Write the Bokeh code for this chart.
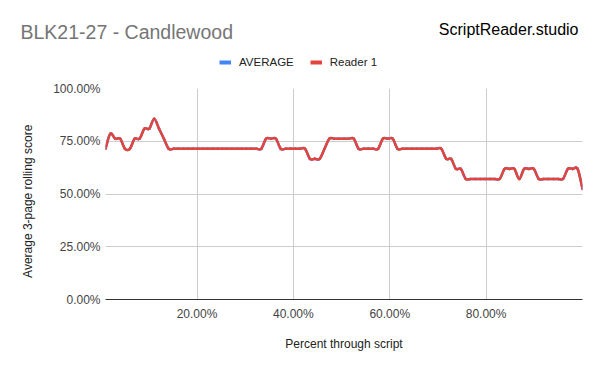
import math
from bokeh.plotting import figure
from bokeh.layouts import column, row
from bokeh.models import (Range1d, FixedTicker, Label, Legend, LegendItem,
                          ColumnDataSource)
from bokeh.embed import file_html
from bokeh.resources import INLINE

# ---------------- data ----------------
title_text = "BLK21-27 - Candlewood"
brand_text = "ScriptReader.studio"
x_title = "Percent through script"
y_title = "Average 3-page rolling score"
series_names = ["AVERAGE", "Reader 1"]

total_pages = 99
pages = list(range(1, total_pages + 1))

reader1 = [
    71.43, 78.57, 76.19, 76.19, 71.43, 71.43, 76.19, 76.19, 80.95, 80.95,
    85.71, 80.95, 76.19, 71.43, 71.43, 71.43, 71.43, 71.43, 71.43, 71.43,
    71.43, 71.43, 71.43, 71.43, 71.43, 71.43, 71.43, 71.43, 71.43, 71.43,
    71.43, 71.43, 71.43, 76.19, 76.19, 76.19, 71.43, 71.43, 71.43, 71.43,
    71.43, 71.43, 66.67, 66.67, 66.67, 71.43, 76.19, 76.19, 76.19, 76.19,
    76.19, 76.19, 71.43, 71.43, 71.43, 71.43, 71.43, 76.19, 76.19, 76.19,
    71.43, 71.43, 71.43, 71.43, 71.43, 71.43, 71.43, 71.43, 71.43, 71.43,
    66.67, 66.67, 61.90, 61.90, 57.14, 57.14, 57.14, 57.14, 57.14, 57.14,
    57.14, 57.14, 61.90, 61.90, 61.90, 57.14, 61.90, 61.90, 61.90, 57.14,
    57.14, 57.14, 57.14, 57.14, 57.14, 61.90, 61.90, 61.90, 52.38,
]
# only one reader, so the average equals Reader 1
average = list(reader1)

x_ticks = [20, 40, 60, 80, 100]
x_tick_labels = {20: "20.00%", 40: "40.00%", 60: "60.00%", 80: "80.00%", 100: ""}
y_ticks = [0, 25, 50, 75, 100]
y_tick_labels = {0: "0.00%", 25: "25.00%", 50: "50.00%", 75: "75.00%", 100: "100.00%"}

pct = [100.0 * pg / total_pages for pg in pages]

FONT = "Liberation Sans"
AVG_COLOR = "#4285F4"
RD_COLOR = "#E2453C"
NAN = float("nan")

PAGE_W, PAGE_H = 600, 371
HH = 80          # header height
LW = 40          # left strip width (y-axis title)


def blank(width, height, xr, yr):
    f = figure(width=width, height=height, output_backend="svg",
               toolbar_location=None, x_range=xr, y_range=yr,
               x_axis_type=None, y_axis_type=None,
               min_border_left=0, min_border_right=0,
               min_border_top=0, min_border_bottom=0)
    f.frame_align = False
    f.outline_line_color = None
    f.grid.visible = False
    return f


# ---------------- header (title, brand, legend) ----------------
head = blank(PAGE_W, HH, Range1d(0, PAGE_W), Range1d(HH, 0))
head.add_layout(Label(x=20, y=31, text=title_text,
                      text_font=FONT, text_font_size="19.5px", text_color="#757575",
                      text_align="left", text_baseline="alphabetic"))
head.add_layout(Label(x=578, y=28.5, text=brand_text,
                      text_font=FONT, text_font_size="16px", text_color="#000000",
                      text_align="right", text_baseline="alphabetic"))

# legend keys (no visible data of their own)
key_avg = head.line(x=[NAN], y=[NAN], line_color=AVG_COLOR, line_width=4)
key_rd = head.line(x=[NAN], y=[NAN], line_color=RD_COLOR, line_width=4)
legend = Legend(items=[LegendItem(label=series_names[0], renderers=[key_avg]),
                       LegendItem(label=series_names[1], renderers=[key_rd])],
                orientation="horizontal", location=(219, 12),
                glyph_width=12, glyph_height=12, label_height=12,
                label_standoff=8, spacing=16, padding=0, margin=0,
                label_text_font=FONT, label_text_font_size="11.5px",
                label_text_color="#222222", border_line_color=None,
                background_fill_alpha=0)
head.add_layout(legend)

# ---------------- left strip (y-axis title) ----------------
left = blank(LW, PAGE_H - HH, Range1d(0, LW), Range1d(PAGE_H, HH))
left.add_layout(Label(x=27, y=200.8, text=y_title, angle=math.pi / 2,
                      text_font=FONT, text_font_size="12px", text_color="#222222",
                      text_align="center", text_baseline="middle"))

# ---------------- main chart ----------------
W, H = PAGE_W - LW, PAGE_H - HH
FL, FR, FT, FB = 105 - LW, 18, 8, 72

p = figure(width=W, height=H, output_backend="svg", toolbar_location=None,
           x_range=Range1d(pct[0], pct[-1]), y_range=Range1d(0, 100),
           min_border_left=FL, min_border_right=FR,
           min_border_top=FT, min_border_bottom=FB)
p.frame_align = False
p.outline_line_color = None

p.xgrid.ticker = FixedTicker(ticks=x_ticks)
p.ygrid.ticker = FixedTicker(ticks=y_ticks)
p.xgrid.grid_line_color = "#cccccc"
p.ygrid.grid_line_color = "#cccccc"

p.xaxis.ticker = FixedTicker(ticks=x_ticks[:-1])
p.xaxis.major_label_overrides = x_tick_labels
p.yaxis.ticker = FixedTicker(ticks=y_ticks)
p.yaxis.major_label_overrides = y_tick_labels
for ax in (p.xaxis[0], p.yaxis[0]):
    ax.major_tick_line_color = None
    ax.minor_tick_line_color = None
    ax.major_tick_out = 0
    ax.major_tick_in = 0
    ax.major_label_text_font = FONT
    ax.major_label_text_font_size = "12px"
    ax.major_label_text_color = "#444444"
    ax.axis_label_text_font = FONT
    ax.axis_label_text_font_size = "12px"
    ax.axis_label_text_font_style = "normal"
    ax.axis_label_text_color = "#222222"
p.xaxis.axis_line_color = "#333333"
p.yaxis.axis_line_color = None
p.yaxis.major_label_standoff = 5
p.xaxis.major_label_standoff = 7
p.xaxis.axis_label = x_title
p.xaxis.axis_label_standoff = 13


# smooth curve (cardinal spline through the data points)
def spline(xs, ys, t=1.0 / 6.0):
    n = len(xs)
    d = dict(x0=[], y0=[], x1=[], y1=[], cx0=[], cy0=[], cx1=[], cy1=[])
    for i in range(n - 1):
        a = i - 1 if i > 0 else i
        b = i + 2 if i + 2 < n else i + 1
        d["x0"].append(xs[i]); d["y0"].append(ys[i])
        d["x1"].append(xs[i + 1]); d["y1"].append(ys[i + 1])
        d["cx0"].append(xs[i] + (xs[i + 1] - xs[a]) * t)
        d["cy0"].append(ys[i] + (ys[i + 1] - ys[a]) * t)
        d["cx1"].append(xs[i + 1] - (xs[b] - xs[i]) * t)
        d["cy1"].append(ys[i + 1] - (ys[b] - ys[i]) * t)
    return ColumnDataSource(d)


p.bezier(x0="x0", y0="y0", x1="x1", y1="y1", cx0="cx0", cy0="cy0",
         cx1="cx1", cy1="cy1", source=spline(pct, average),
         line_color=AVG_COLOR, line_width=2.5, line_cap="round")
p.bezier(x0="x0", y0="y0", x1="x1", y1="y1", cx0="cx0", cy0="cy0",
         cx1="cx1", cy1="cy1", source=spline(pct, reader1),
         line_color=RD_COLOR, line_width=2.5, line_cap="round")

layout = column(head, row(left, p, spacing=0), spacing=0)
open("out.html", "w").write(file_html(layout, INLINE))
